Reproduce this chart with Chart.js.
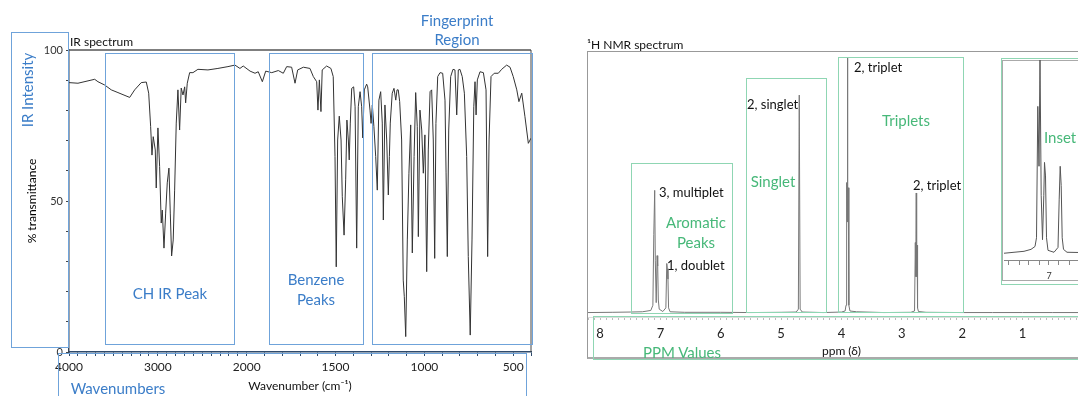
<!DOCTYPE html>
<html lang="en">
<head>
  <meta charset="UTF-8" />
  <title>IR and NMR spectra</title>
  <script src="https://cdn.jsdelivr.net/npm/chart.js"></script>
  <style>
    body { margin: 0; width: 1078px; height: 396px; overflow: hidden; background: #fff; font-family: Lato, sans-serif; position: relative; }
    canvas { position: absolute; }
    .box { position: absolute; box-sizing: border-box; border: 1px solid; }
    .blue { border-color: #6fa3da; }
    .green { border-color: #8fd6b3; }
    .t { position: absolute; white-space: nowrap; line-height: 1; transform: translate(-50%, -50%); }
    .l { transform: translate(0, -50%); }
    .big { font-size: 15px; }
    .small { font-size: 13px; color: #111; }
    .bt { color: #3b7dc8; }
    .gt { color: #47b879; }
  </style>
</head>
<body>
  <canvas id="ir" width="545" height="396" style="left:0;top:0"></canvas>
  <canvas id="nmr" width="507" height="396" style="left:588px;top:0"></canvas>

  <div class="box" style="left:587px;top:51px;width:520px;height:308px;border:none;border-left:1.5px solid #999;border-top:1.5px solid #999;border-bottom:2px solid #aaa"></div>
  <div class="box" style="left:1002px;top:60px;width:100px;height:221px;border-color:#aaa"></div>
  <canvas id="inset" width="85" height="230" style="left:1004px;top:60px"></canvas>

  <!-- IR annotations -->
  <div class="box blue" style="left:11px;top:32px;width:58px;height:316px"></div>
  <div class="box blue" style="left:105px;top:53px;width:130px;height:292px"></div>
  <div class="box blue" style="left:269px;top:53px;width:95px;height:292px"></div>
  <div class="box blue" style="left:372px;top:53px;width:161px;height:292px"></div>
  <div class="box blue" style="left:58px;top:353px;width:469px;height:60px"></div>

  <div class="t l" style="left:70px;top:42px;font-size:12px;color:#111">IR spectrum</div>
  <div class="t big bt" style="left:27px;top:90px;transform:translate(-50%,-50%) rotate(-90deg)">IR Intensity</div>
  <div class="t big bt" style="left:457px;top:20px">Fingerprint</div>
  <div class="t big bt" style="left:457px;top:39px">Region</div>
  <div class="t big bt" style="left:170px;top:293px">CH IR Peak</div>
  <div class="t big bt" style="left:316px;top:279px">Benzene</div>
  <div class="t big bt" style="left:316px;top:299px">Peaks</div>
  <div class="t big bt" style="left:118px;top:388px">Wavenumbers</div>

  <!-- NMR annotations -->
  <div class="box green" style="left:631px;top:163px;width:102px;height:151px"></div>
  <div class="box green" style="left:746px;top:78px;width:81px;height:235px"></div>
  <div class="box green" style="left:838px;top:57px;width:126px;height:256px"></div>
  <div class="box green" style="left:1001px;top:58px;width:100px;height:227px"></div>
  <div class="box green" style="left:593px;top:316px;width:500px;height:44px"></div>

  <div class="t l" style="left:587px;top:45px;font-size:12px;color:#111">¹H NMR spectrum</div>
  <div class="t big gt" style="left:696px;top:222px">Aromatic</div>
  <div class="t big gt" style="left:696px;top:242px">Peaks</div>
  <div class="t big gt" style="left:773px;top:181px">Singlet</div>
  <div class="t big gt" style="left:906px;top:120px">Triplets</div>
  <div class="t l big gt" style="left:1044px;top:137px">Inset</div>
  <div class="t big gt" style="left:682px;top:352px">PPM Values</div>
  <div class="t l small" style="left:659px;top:192px">3, multiplet</div>
  <div class="t l small" style="left:667px;top:265px">1, doublet</div>
  <div class="t l small" style="left:747px;top:104px">2, singlet</div>
  <div class="t l small" style="left:854px;top:67px">2, triplet</div>
  <div class="t l small" style="left:913px;top:185px">2, triplet</div>

  <script>
    // IR spectrum (wavenumber in cm-1, % transmittance)
    const irWavenumber = [
      4000, 3899, 3711, 3674, 3598, 3524, 3449, 3317, 3261, 3187,
      3130, 3103, 3081, 3066, 3052, 3029, 3018, 2999, 2980, 2962,
      2950, 2931, 2912, 2894, 2875, 2860, 2845, 2827, 2811, 2793,
      2774, 2755, 2737, 2717, 2698, 2687, 2669, 2642, 2605, 2549,
      2436, 2324, 2211, 2132, 2076, 2039, 1981, 1953, 1935, 1912,
      1893, 1859, 1822, 1794, 1775, 1747, 1728, 1713, 1681, 1644,
      1625, 1606, 1599, 1591, 1582, 1575, 1550, 1526, 1513, 1503,
      1496, 1488, 1479, 1469, 1462, 1452, 1443, 1436, 1428, 1423,
      1417, 1409, 1398, 1390, 1381, 1372, 1362, 1353, 1347, 1338,
      1325, 1319, 1306, 1300, 1293, 1284, 1274, 1265, 1256, 1246,
      1237, 1231, 1222, 1212, 1203, 1197, 1192, 1181, 1171, 1161,
      1154, 1147, 1139, 1128, 1119, 1113, 1105, 1096, 1087, 1077,
      1068, 1058, 1049, 1040, 1034, 1025, 1015, 1006, 997, 987,
      978, 968, 959, 950, 942, 935, 925, 912, 897, 884,
      878, 871, 863, 852, 839, 828, 818, 809, 800, 787,
      775, 762, 753, 742, 732, 722, 715, 709, 702, 687,
      668, 653, 644, 636, 625, 607, 584, 565, 537, 518,
      500, 480, 468, 452, 434, 415, 400
    ];
    const irTransmittance = [
      89.2, 89.0, 90.3, 89.5, 88.4, 86.8, 85.9, 84.3, 86.8, 89.2,
      89.4, 85.7, 74.6, 65.2, 71.3, 66.9, 54.3, 74.2, 61.4, 42.7,
      47.0, 34.4, 46.0, 56.0, 60.9, 46.0, 31.8, 37.1, 53.6, 75.8,
      86.8, 73.5, 87.4, 85.1, 87.8, 82.5, 89.0, 92.5, 92.5, 93.6,
      93.4, 93.9, 94.5, 95.0, 93.9, 94.7, 93.0, 92.3, 92.8, 89.5,
      93.0, 92.5, 93.2, 92.3, 94.5, 94.3, 89.0, 93.4, 94.3, 93.9,
      91.2, 89.5, 80.1, 90.1, 79.6, 93.4, 94.7, 93.9, 91.2, 64.7,
      28.2, 70.2, 78.1, 70.2, 51.4, 38.7, 57.0, 76.8, 70.2, 63.6,
      75.8, 87.3, 87.8, 81.2, 34.4, 81.2, 86.2, 81.2, 70.9, 86.8,
      88.7, 87.8, 80.1, 75.7, 81.8, 74.6, 64.7, 53.6, 83.4, 86.2,
      75.8, 43.7, 81.8, 70.2, 52.0, 64.7, 75.8, 85.7, 87.3, 83.4,
      86.8, 86.8, 82.9, 70.2, 23.8, 18.3, 5.1, 37.1, 59.2, 75.2,
      32.8, 64.7, 85.9, 74.6, 38.2, 80.1, 73.5, 59.2, 71.9, 26.6,
      66.9, 86.2, 86.8, 70.2, 31.0, 75.7, 91.2, 92.5, 92.3, 83.4,
      59.3, 31.6, 73.5, 91.2, 93.6, 93.4, 78.5, 93.4, 93.6, 91.2,
      85.7, 64.7, 31.6, 5.6, 37.1, 81.2, 89.5, 78.5, 90.1, 92.8,
      92.5, 86.8, 31.6, 70.2, 91.2, 92.3, 92.3, 93.6, 95.0, 94.3,
      91.2, 86.8, 82.9, 85.7, 77.9, 69.1, 70.8
    ];

    // 1H NMR spectrum (ppm, relative intensity)
    const nmrPpm = [
      8.2, 7.8, 7.5, 7.3, 7.16, 7.125, 7.11, 7.095, 7.085, 7.07,
      7.055, 7.045, 7.035, 7.02, 6.96, 6.91, 6.895, 6.885, 6.875, 6.865,
      6.84, 6.6, 6.0, 5.5, 5.0, 4.75, 4.715, 4.70, 4.685, 4.65,
      4.3, 4.0, 3.94, 3.925, 3.915, 3.908, 3.902, 3.895, 3.888, 3.878,
      3.86, 3.75, 3.3, 2.85, 2.79, 2.777, 2.77, 2.762, 2.755, 2.748,
      2.74, 2.725, 2.6, 2.0, 1.5, 1.0, 0.5, -0.2
    ];
    const nmrIntensity = [
      0.2, 0.3, 0.4, 0.5, 1, 3, 30, 47, 20, 4,
      22, 18, 5, 1.5, 0.6, 2, 19, 17, 13, 2,
      0.5, 0.3, 0.3, 0.2, 0.3, 0.4, 1.5, 83.5, 1.5, 0.4,
      0.2, 0.4, 0.8, 3, 50, 35, 97.7, 35, 48, 3,
      0.8, 0.5, 0.2, 0.3, 0.8, 27, 14, 46, 14, 26,
      2, 0.6, 0.3, 0.2, 0.2, 0.2, 0.2, 0.2
    ];

    // inset: aromatic region enlarged
    const insetPpm = [
      7.45, 7.35, 7.25, 7.18, 7.14, 7.125, 7.112, 7.10, 7.09, 7.078,
      7.065, 7.052, 7.045, 7.035, 7.025, 7.01, 6.95, 6.91, 6.898, 6.888,
      6.878, 6.868, 6.855, 6.82, 6.6
    ];
    const insetIntensity = [
      0, 0.5, 1, 2, 3.5, 8, 76, 45, 100, 30,
      7, 30, 47, 40, 8, 1.5, 0.5, 3, 28, 45,
      35, 8, 2, 0.5, 0.3
    ];

    // IR axis is compressed 2x above this wavenumber
    const IR_BREAK = 2000;
    const IR_SQUEEZE = 2;

    class SplitScale extends Chart.LinearScale {
      splitPos(v) {
        return v <= IR_BREAK ? v - this.min : (IR_BREAK - this.min) + (v - IR_BREAK) / IR_SQUEEZE;
      }
      getPixelForValue(value) {
        if (value === null || value === undefined) return NaN;
        return this.getPixelForDecimal(this.splitPos(value) / this.splitPos(this.max));
      }
    }
    SplitScale.id = 'split';
    SplitScale.defaults = Chart.LinearScale.defaults;
    Chart.register(SplitScale);

    Chart.defaults.font.family = 'Lato';

    const frame = {
      id: 'frame',
      afterDraw(chart) {
        const { ctx, chartArea: a } = chart;
        ctx.save();
        ctx.strokeStyle = '#555';
        ctx.lineWidth = 1.5;
        ctx.beginPath();
        ctx.moveTo(a.left, a.top);
        ctx.lineTo(a.right, a.top);
        ctx.stroke();
        ctx.lineWidth = 1;
        ctx.strokeStyle = '#444';
        ctx.beginPath();
        ctx.moveTo(a.right, a.top);
        ctx.lineTo(a.right, a.bottom);
        ctx.stroke();
        ctx.restore();
      }
    };

    const isInt = v => Math.abs(v - Math.round(v)) < 1e-6;
    const noUi = { legend: { display: false }, tooltip: { enabled: false } };

    // fixed axis height, and no extra side padding for edge labels
    const fitX = h => s => { s.height = h; s.paddingLeft = 0; s.paddingRight = 0; };

    function points(xs, ys) {
      return xs.map((x, i) => ({ x: x, y: ys[i] }));
    }

    new Chart(document.getElementById('ir'), {
      type: 'line',
      data: { datasets: [{ data: points(irWavenumber, irTransmittance), borderColor: '#333', borderWidth: 1, pointRadius: 0 }] },
      options: {
        responsive: false, animation: false, events: [],
        layout: { padding: { top: 50, right: 14 } },
        plugins: noUi,
        scales: {
          x: {
            type: 'split', reverse: true, min: 400, max: 4000,
            afterFit: fitX(44),
            ticks: {
              stepSize: 100, autoSkip: false, maxRotation: 0, includeBounds: false, padding: 4,
              color: '#222', font: { size: 12 },
              callback: v => (v >= IR_BREAK ? v % 1000 === 0 : v % 500 === 0) ? String(v) : ''
            },
            grid: { drawOnChartArea: false, tickLength: 4, color: '#2f4a6b' },
            border: { color: '#2f4a6b', width: 1.5 },
            title: { display: true, text: 'Wavenumber (cm⁻¹)', color: '#111', font: { size: 12 }, padding: { top: 0, bottom: 3 } }
          },
          y: {
            min: 0, max: 100,
            afterFit: s => { s.width = 69; },
            ticks: { stepSize: 10, padding: 3, color: '#333', font: { size: 11 }, callback: v => v % 50 === 0 ? String(v) : '' },
            grid: { drawOnChartArea: false, tickLength: 3, color: '#444' },
            border: { color: '#3a4656', width: 1.5 },
            title: { display: true, text: '% transmittance', color: '#000', font: { size: 12 }, padding: { top: 25 } }
          }
        }
      },
      plugins: [frame]
    });

    new Chart(document.getElementById('nmr'), {
      type: 'line',
      data: { datasets: [{ data: points(nmrPpm, nmrIntensity), borderColor: '#777', borderWidth: 1, pointRadius: 0 }] },
      options: {
        responsive: false, animation: false, events: [],
        layout: { padding: { top: 52 } },
        plugins: noUi,
        scales: {
          x: {
            type: 'linear', reverse: true, min: -0.2, max: 8.2,
            afterFit: fitX(79),
            ticks: {
              stepSize: 0.1, autoSkip: false, maxRotation: 0, includeBounds: false, padding: 6,
              color: '#222', font: { size: 13 },
              callback: v => isInt(v) && Math.round(v) >= 1 ? String(Math.round(v)) : ''
            },
            grid: { drawOnChartArea: false, tickLength: 3, color: '#bbb' },
            border: { color: '#ddd' },
            title: { display: true, text: 'ppm (δ)', color: '#111', font: { size: 12 }, padding: { top: 0, bottom: 38 } }
          },
          y: { display: false, min: -1.5, max: 100 }
        }
      }
    });

    new Chart(document.getElementById('inset'), {
      type: 'line',
      data: { datasets: [{ data: points(insetPpm, insetIntensity), borderColor: '#555', borderWidth: 1, pointRadius: 0, clip: 3 }] },
      options: {
        responsive: false, animation: false, events: [],
        plugins: noUi,
        scales: {
          x: {
            type: 'linear', bounds: 'data', reverse: true, min: 6.6, max: 7.45,
            afterFit: fitX(30),
            ticks: {
              stepSize: 0.1, autoSkip: false, maxRotation: 0, includeBounds: false, padding: 6,
              color: '#333', font: { size: 9 },
              callback: v => isInt(v) ? String(Math.round(v)) : ''
            },
            grid: { drawOnChartArea: false, tickLength: 5, color: '#888' },
            border: { color: '#888' }
          },
          y: { display: false, min: -3.5, max: 100 }
        }
      }
    });
  </script>
</body>
</html>
